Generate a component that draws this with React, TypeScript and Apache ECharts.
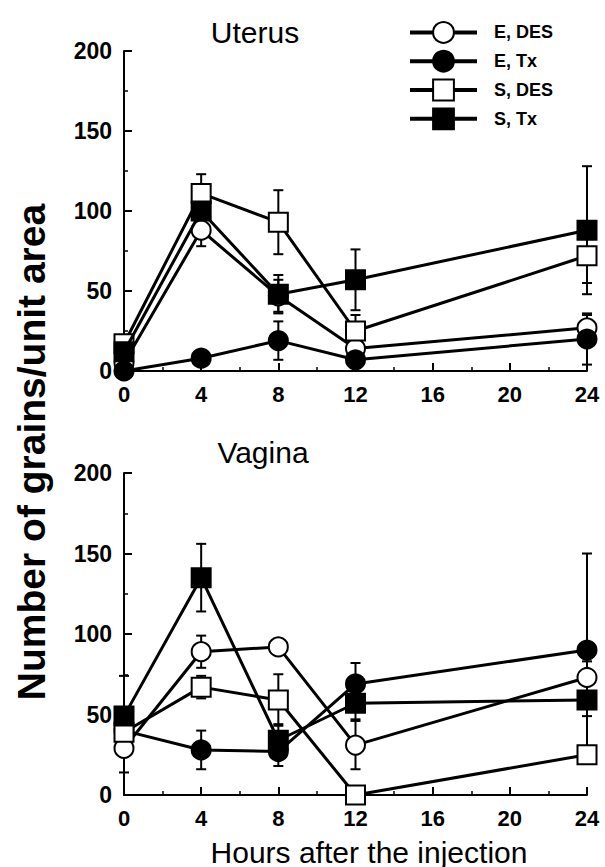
import React, { useEffect, useRef } from "react";
import * as echarts from "echarts";

const HOURS = [0, 4, 8, 12, 24];
const X_TICKS = [0, 4, 8, 12, 16, 20, 24];
const Y_TICKS = [0, 50, 100, 150, 200];
const NAMES = ["E, DES", "E, Tx", "S, DES", "S, Tx"];

// Uterus (upper panel)
const U_E_DES = [5, 88, 47, 14, 27];
const U_E_DES_ERR = [3, 10, 10, 3, 8];
const U_E_TX = [0, 8, 19, 7, 20];
const U_E_TX_ERR = [0, 2, 12, 2, 16];
const U_S_DES = [17, 111, 93, 25, 72];
const U_S_DES_ERR = [3, 12, 20, 10, 17];
const U_S_TX = [12, 100, 48, 57, 88];
const U_S_TX_ERR = [3, 5, 12, 19, 40];

// Vagina (lower panel)
const V_E_DES = [29, 89, 92, 31, 73];
const V_E_DES_ERR = [15, 10, 5, 15, 10];
const V_E_TX = [40, 28, 27, 69, 90];
const V_E_TX_ERR = [5, 12, 9, 13, 60];
const V_S_DES = [39, 67, 59, 0, 25];
const V_S_DES_ERR = [5, 7, 16, 0, 5];
const V_S_TX = [49, 135, 34, 57, 59];
const V_S_TX_ERR = [25, 21, 10, 10, 10];

const FONT = "Liberation Sans, Arial, sans-serif";

const STYLES = [
  { symbol: "circle", fill: "#ffffff" },
  { symbol: "circle", fill: "#000000" },
  { symbol: "rect", fill: "#ffffff" },
  { symbol: "rect", fill: "#000000" },
];

function lineSeries(idx: number, axis: number, vals: number[]) {
  const st = STYLES[idx];
  return {
    type: "line",
    name: NAMES[idx],
    xAxisIndex: axis,
    yAxisIndex: axis,
    data: HOURS.map((h, i) => [h, vals[i]]),
    symbol: st.symbol,
    symbolSize: 19,
    showAllSymbol: true,
    z: 3 + idx,
    lineStyle: { color: "#000", width: 3 },
    itemStyle: { color: st.fill, borderColor: "#000", borderWidth: 2, opacity: 1 },
    emphasis: { disabled: true },
    silent: true,
  };
}

function errSeries(axis: number, vals: number[], errs: number[]) {
  return {
    type: "custom",
    xAxisIndex: axis,
    yAxisIndex: axis,
    z: 2,
    silent: true,
    data: HOURS.map((h, i) => [h, Math.max(0, vals[i] - errs[i]), vals[i] + errs[i]]),
    renderItem: (params: any, api: any) => {
      const x = api.value(0);
      const lo = api.coord([x, api.value(1)]);
      const hi = api.coord([x, api.value(2)]);
      const w = 5;
      const s = { stroke: "#000", lineWidth: 2 };
      return {
        type: "group",
        children: [
          { type: "line", shape: { x1: lo[0], y1: lo[1], x2: hi[0], y2: hi[1] }, style: s },
          { type: "line", shape: { x1: hi[0] - w, y1: hi[1], x2: hi[0] + w, y2: hi[1] }, style: s },
          { type: "line", shape: { x1: lo[0] - w, y1: lo[1], x2: lo[0] + w, y2: lo[1] }, style: s },
        ],
      };
    },
  };
}

function xAxis(grid: number) {
  return {
    type: "value",
    gridIndex: grid,
    min: 0,
    max: 24,
    interval: 4,
    axisLine: { lineStyle: { color: "#000", width: 2 } },
    axisTick: { inside: true, length: 8, lineStyle: { color: "#000", width: 2 } },
    minorTick: { show: true, splitNumber: 2, length: 4, lineStyle: { color: "#000", width: 1.5 } },
    splitLine: { show: false },
    axisLabel: {
      margin: 12,
      fontFamily: FONT,
      fontWeight: "bold",
      fontSize: 22,
      color: "#000",
      formatter: (v: number) => (X_TICKS.includes(v) ? String(v) : ""),
    },
  };
}

function yAxis(grid: number) {
  return {
    type: "value",
    gridIndex: grid,
    min: 0,
    max: 200,
    interval: 50,
    axisLine: { lineStyle: { color: "#000", width: 2 } },
    axisTick: { inside: true, length: 8, lineStyle: { color: "#000", width: 2 } },
    minorTick: { show: true, splitNumber: 2, length: 4, lineStyle: { color: "#000", width: 1.5 } },
    splitLine: { show: false },
    axisLabel: {
      margin: 12,
      fontFamily: FONT,
      fontWeight: "bold",
      fontSize: 23,
      color: "#000",
      formatter: (v: number) => (Y_TICKS.includes(v) ? String(v) : ""),
    },
  };
}

export default function App() {
  const ref = useRef<HTMLDivElement>(null);
  useEffect(() => {
    if (!ref.current) return;
    const chart = echarts.init(ref.current, null, { renderer: "svg" });
    chart.setOption({
      animation: false,
      backgroundColor: "#fff",
      title: [
        {
          text: "Uterus",
          left: 250,
          top: 12,
          textAlign: "center",
          textStyle: { fontFamily: FONT, fontSize: 30, fontWeight: "normal", color: "#000" },
        },
        {
          text: "Vagina",
          left: 258,
          top: 432,
          textAlign: "center",
          textStyle: { fontFamily: FONT, fontSize: 30, fontWeight: "normal", color: "#000" },
        },
      ],
      legend: {
        data: NAMES,
        orient: "vertical",
        left: 403,
        top: 16,
        itemWidth: 67,
        itemHeight: 26,
        itemGap: 6,
        selectedMode: false,
        lineStyle: { width: 4, color: "#000" },
        textStyle: {
          fontFamily: FONT,
          fontWeight: "bold",
          fontSize: 18,
          color: "#000",
          padding: [0, 0, 0, 12],
        },
      },
      grid: [
        { left: 124, top: 51, width: 463, height: 320 },
        { left: 124, top: 473, width: 463, height: 322 },
      ],
      xAxis: [xAxis(0), xAxis(1)],
      yAxis: [yAxis(0), yAxis(1)],
      graphic: [
        {
          type: "text",
          x: 31,
          y: 452,
          rotation: Math.PI / 2,
          style: {
            text: "Number of grains/unit area",
            fontFamily: FONT,
            fontWeight: "bold",
            fontSize: 39,
            fill: "#000",
            align: "center",
            verticalAlign: "middle",
          },
        },
        {
          type: "text",
          x: 369,
          y: 852,
          style: {
            text: "Hours after the injection",
            fontFamily: FONT,
            fontSize: 30,
            fill: "#000",
            align: "center",
            verticalAlign: "middle",
          },
        },
      ],
      series: [
        errSeries(0, U_E_DES, U_E_DES_ERR),
        errSeries(0, U_E_TX, U_E_TX_ERR),
        errSeries(0, U_S_DES, U_S_DES_ERR),
        errSeries(0, U_S_TX, U_S_TX_ERR),
        lineSeries(0, 0, U_E_DES),
        lineSeries(1, 0, U_E_TX),
        lineSeries(2, 0, U_S_DES),
        lineSeries(3, 0, U_S_TX),
        errSeries(1, V_E_DES, V_E_DES_ERR),
        errSeries(1, V_E_TX, V_E_TX_ERR),
        errSeries(1, V_S_DES, V_S_DES_ERR),
        errSeries(1, V_S_TX, V_S_TX_ERR),
        lineSeries(0, 1, V_E_DES),
        lineSeries(1, 1, V_E_TX),
        lineSeries(2, 1, V_S_DES),
        lineSeries(3, 1, V_S_TX),
      ],
    });
    return () => chart.dispose();
  }, []);
  return (
    <div
      ref={ref}
      style={{ position: "absolute", left: 0, top: 0, width: 605, height: 867 }}
    />
  );
}
